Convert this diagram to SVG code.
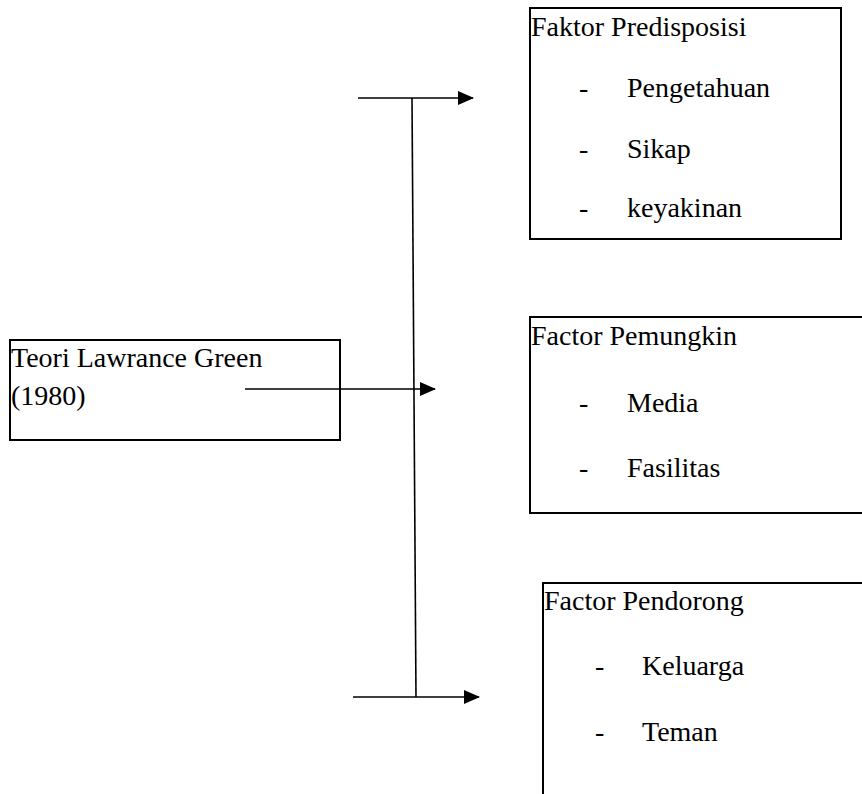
<svg xmlns="http://www.w3.org/2000/svg" width="862" height="794" viewBox="0 0 862 794">
<style>
.box{fill:none;stroke:#000;stroke-width:2}
.ln{fill:none;stroke:#000;stroke-width:1.6}
</style>
<defs>
<marker id="ah" markerWidth="16" markerHeight="14" refX="15" refY="7" orient="auto" markerUnits="userSpaceOnUse">
<path d="M0,0 L16,7 L0,14 Z" fill="#000"/>
</marker>
</defs>
<rect width="862" height="794" fill="#fff"/>
<g font-family="Liberation Serif, Times New Roman, Times, serif" font-size="28" fill="#000">
<g id="teori">
<rect class="box" x="10" y="340" width="330" height="100"/>
<text x="11" y="367">Teori Lawrance Green</text>
<text x="11" y="405">(1980)</text>
</g>
<g id="predisposisi">
<rect class="box" x="530" y="8" width="311" height="231"/>
<text x="531" y="36">Faktor Predisposisi</text>
<text x="579" y="97">-</text><text x="627" y="97">Pengetahuan</text>
<text x="579" y="158">-</text><text x="627" y="158">Sikap</text>
<text x="579" y="217">-</text><text x="627" y="217">keyakinan</text>
</g>
<g id="pemungkin">
<rect class="box" x="530" y="317" width="340" height="196"/>
<text x="531" y="345">Factor Pemungkin</text>
<text x="579" y="412">-</text><text x="627" y="412">Media</text>
<text x="579" y="477">-</text><text x="627" y="477">Fasilitas</text>
</g>
<g id="pendorong">
<path class="box" d="M543,800 V583 H870"/>
<text x="544" y="610">Factor Pendorong</text>
<text x="595" y="675">-</text><text x="642" y="675">Keluarga</text>
<text x="595" y="741">-</text><text x="642" y="741">Teman</text>
</g>
</g>
<g id="connectors">
<line class="ln" x1="412" y1="98" x2="416" y2="697"/>
<line class="ln" x1="358" y1="98" x2="473" y2="98" marker-end="url(#ah)"/>
<line class="ln" x1="245" y1="389" x2="435" y2="389" marker-end="url(#ah)"/>
<line class="ln" x1="353" y1="697" x2="479" y2="697" marker-end="url(#ah)"/>
</g>
</svg>
